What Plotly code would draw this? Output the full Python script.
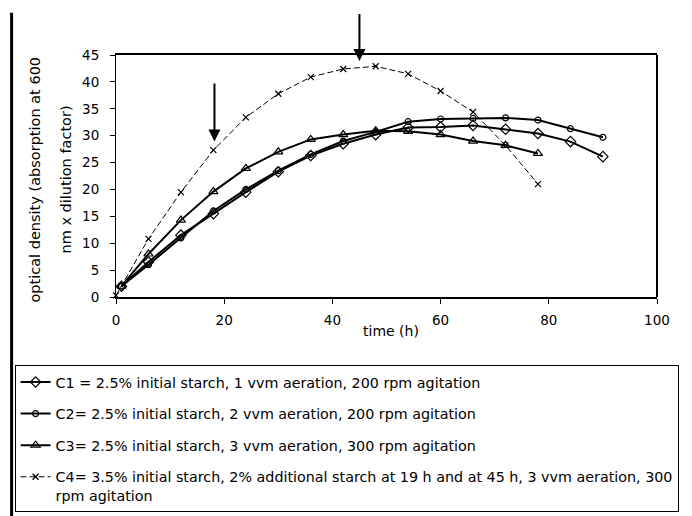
import plotly.graph_objects as go

# ---- data ----
t_c1 = [1, 6, 12, 18, 24, 30, 36, 42, 48, 54, 60, 66, 72, 78, 84, 90]
od_c1 = [2.0, 6.5, 11.5, 15.5, 19.5, 23.3, 26.3, 28.5, 30.2, 31.5, 31.6, 31.9, 31.2, 30.4, 28.9, 26.1]

t_c2 = [1, 6, 12, 18, 24, 30, 36, 42, 48, 54, 60, 66, 72, 78, 84, 90]
od_c2 = [2.0, 6.0, 11.0, 16.0, 20.0, 23.5, 26.5, 29.0, 30.7, 32.6, 33.1, 33.2, 33.3, 32.9, 31.3, 29.7]

t_c3 = [1, 6, 12, 18, 24, 30, 36, 42, 48, 54, 60, 66, 72, 78]
od_c3 = [2.0, 8.0, 14.3, 19.6, 23.9, 27.0, 29.3, 30.2, 30.9, 30.8, 30.2, 29.0, 28.2, 26.7]

t_c4 = [0, 6, 12, 18, 24, 30, 36, 42, 48, 54, 60, 66, 72, 78]
od_c4 = [0.3, 10.8, 19.5, 27.3, 33.4, 37.8, 40.9, 42.4, 42.9, 41.5, 38.3, 34.4, 28.2, 21.0]

names = [
    "C1 = 2.5% initial starch, 1 vvm aeration, 200 rpm agitation",
    "C2= 2.5% initial starch, 2 vvm aeration, 200 rpm agitation",
    "C3= 2.5% initial starch, 3 vvm aeration, 300 rpm agitation",
    "C4= 3.5% initial starch, 2% additional starch at 19 h and at 45 h, 3 vvm aeration, 300<br>rpm agitation",
]

x_ticks = [0, 20, 40, 60, 80, 100]
y_ticks = [0, 5, 10, 15, 20, 25, 30, 35, 40, 45]

# arrows: (time, tail value, tip value)
arrow_t = [18.2, 45.0]
arrow_tail = [40.0, 52.9]
arrow_tip = [28.9, 43.9]

FONT = "DejaVu Sans, Liberation Sans, sans-serif"

fig = go.Figure()
series = [
    (t_c1, od_c1, "diamond-open", 8, dict(color="black", width=2), names[0]),
    (t_c2, od_c2, "circle-open", 6, dict(color="black", width=2), names[1]),
    (t_c3, od_c3, "triangle-up-open", 8, dict(color="black", width=2), names[2]),
    (t_c4, od_c4, "x-thin-open", 6, dict(color="black", width=1, dash="6px,3px"), names[3]),
]
for i, (tx, vy, sym, sz, ln, nm) in enumerate(series):
    fig.add_trace(go.Scatter(
        x=tx, y=vy, mode="lines+markers", name=nm, legendgroup=f"g{i}",
        line=ln, cliponaxis=False,
        marker=dict(symbol=sym, size=sz, color="black", line=dict(color="black", width=1.2)),
    ))

# plot area geometry (px)
L, R, T, B = 115.5, 657.0, 54.5, 297.5
W, H = 692, 516
pw, ph = R - L, B - T

def px_x(p):
    return (p - L) / pw

def px_y(p):
    return (B - p) / ph

for at, a0, a1 in zip(arrow_t, arrow_tail, arrow_tip):
    fig.add_annotation(x=at, y=a1, ax=at, ay=a0, xref="x", yref="y", axref="x", ayref="y",
                       text="", showarrow=True, arrowhead=2, arrowsize=1.2, arrowwidth=2,
                       arrowcolor="black", standoff=0)

# axis titles as annotations
fig.add_annotation(x=px_x(391), y=px_y(332), xref="paper", yref="paper", text="time (h)",
                   xanchor="center", yanchor="middle",
                   showarrow=False, font=dict(family=FONT, size=14, color="black"))
fig.add_annotation(x=px_x(34), y=px_y(180), xref="paper", yref="paper",
                   text="optical density (absorption at 600", textangle=-90,
                   xanchor="center", yanchor="middle",
                   showarrow=False, font=dict(family=FONT, size=14.5, color="black"))
fig.add_annotation(x=px_x(65), y=px_y(180), xref="paper", yref="paper",
                   text="nm x dilution factor)", textangle=-90,
                   xanchor="center", yanchor="middle",
                   showarrow=False, font=dict(family=FONT, size=14.5, color="black"))

# right border of plot and outer left frame line
fig.add_shape(type="line", xref="paper", yref="paper", x0=1, x1=1, y0=0, y1=1,
              line=dict(color="black", width=2))
fig.add_shape(type="line", xref="paper", yref="paper", x0=px_x(11), x1=px_x(11),
              y0=px_y(12), y1=px_y(520), line=dict(color="black", width=3))

fig.update_layout(
    width=W, height=H,
    margin=dict(l=L, r=W - R, t=T, b=H - B, autoexpand=False),
    paper_bgcolor="white", plot_bgcolor="white",
    font=dict(family=FONT, size=14, color="black"),
    showlegend=True,
    legend=dict(x=px_x(14), y=px_y(366), xanchor="left", yanchor="top",
                bordercolor="black", borderwidth=1, bgcolor="white",
                font=dict(family=FONT, size=14.3, color="black"),
                tracegroupgap=10, valign="top", itemwidth=30),
    xaxis=dict(range=[0, 100], tickvals=x_ticks, ticktext=[str(v) for v in x_ticks],
               showline=True, linewidth=2, linecolor="black", mirror=True,
               ticks="outside", ticklen=5, tickwidth=1, tickcolor="black",
               showgrid=False, zeroline=False, ticklabelstandoff=5,
               tickfont=dict(family=FONT, size=13.5, color="black")),
    yaxis=dict(range=[0, 45], tickvals=y_ticks, ticktext=[str(v) for v in y_ticks],
               showline=True, linewidth=1, linecolor="black",
               ticks="outside", ticklen=5, tickwidth=1, tickcolor="black",
               showgrid=False, zeroline=False, ticklabelstandoff=8,
               tickfont=dict(family=FONT, size=13.5, color="black")),
)

fig.write_html("out.html")
